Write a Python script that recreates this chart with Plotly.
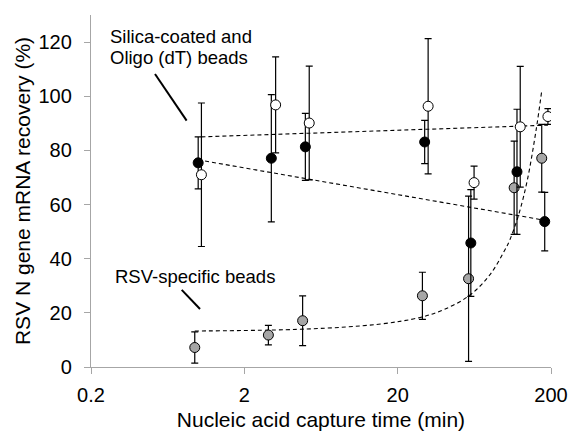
import plotly.graph_objects as go

# ---- data ----
time_ticks = [0.2, 2, 20, 200]
tick_text = ["0.2", "2", "20", "200"]
y_ticks = [0, 20, 40, 60, 80, 100, 120]

# Silica / Oligo (dT) beads, black markers
black_x = [1.0, 3.0, 5.0, 30, 60, 120, 182]
black_y = [75.4, 77.1, 81.3, 83.1, 45.8, 72.1, 53.7]
black_err = [9.6, 23.5, 12.4, 8.0, 19.7, 23.1, 10.8]

# Silica / Oligo (dT) beads, white markers
white_x = [1.05, 3.2, 5.3, 31.6, 63, 126, 191]
white_y = [71.0, 96.8, 90.1, 96.3, 68.1, 88.7, 92.5]
white_err = [26.5, 17.7, 21.0, 25.0, 6.1, 22.3, 2.9]

# RSV-specific beads, grey markers
grey_x = [0.95, 2.87, 4.8, 29, 58, 115, 174]
grey_y = [7.2, 11.8, 17.1, 26.3, 32.6, 66.2, 77.1]
grey_err = [5.8, 3.6, 9.2, 8.7, 30.5, 17.2, 12.5]

# dashed trend lines
white_trend_x = [1.05, 191]
white_trend_y = [85.0, 89.3]
black_trend_x = [1.0, 182]
black_trend_y = [76.5, 54.2]
grey_trend_x = [0.95, 5, 15, 28, 40, 59, 80, 100, 108, 123, 140, 160, 174]
grey_trend_y = [13.3, 14.0, 15.8, 18.3, 21.2, 26.5, 34.1, 43.2, 47.1, 56.2, 68.9, 87.6, 102.0]

# pointer lines for the labels
ptr1_x = [0.523, 0.841]
ptr1_y = [108.2, 91.0]
ptr2_x = [0.781, 1.028]
ptr2_y = [28.5, 21.4]

FONT = "Liberation Sans, Arial, sans-serif"
DASH = "4px,3px"

fig = go.Figure()

for tx, ty in [(white_trend_x, white_trend_y), (black_trend_x, black_trend_y)]:
    fig.add_trace(go.Scatter(x=tx, y=ty, mode="lines",
                             line=dict(color="black", width=1.1, dash=DASH),
                             hoverinfo="skip", showlegend=False))
fig.add_trace(go.Scatter(x=grey_trend_x, y=grey_trend_y, mode="lines",
                         line=dict(color="black", width=1.1, dash=DASH, shape="spline"),
                         hoverinfo="skip", showlegend=False))

for px, py in [(ptr1_x, ptr1_y), (ptr2_x, ptr2_y)]:
    fig.add_trace(go.Scatter(x=px, y=py, mode="lines",
                             line=dict(color="black", width=2),
                             hoverinfo="skip", showlegend=False))

def pts(x, y, err, fill, name):
    fig.add_trace(go.Scatter(
        x=x, y=y, mode="markers", name=name, showlegend=False,
        marker=dict(size=10, color=fill, line=dict(color="black", width=1)),
        error_y=dict(type="data", array=err, visible=True,
                     color="black", thickness=1.2, width=3.5)))

pts(grey_x, grey_y, grey_err, "#a6a6a6", "RSV-specific beads")
pts(black_x, black_y, black_err, "black", "Silica-coated beads")
pts(white_x, white_y, white_err, "white", "Oligo (dT) beads")

fig.add_annotation(text="Silica-coated and", xref="paper", yref="paper",
                   x=0.037, y=0.938, xanchor="left", yanchor="middle",
                   showarrow=False, font=dict(family=FONT, size=18.5, color="black"))
fig.add_annotation(text="Oligo (dT) beads", xref="paper", yref="paper",
                   x=0.037, y=0.880, xanchor="left", yanchor="middle",
                   showarrow=False, font=dict(family=FONT, size=18.5, color="black"))
fig.add_annotation(text="RSV-specific beads", xref="paper", yref="paper",
                   x=0.048, y=0.257, xanchor="left", yanchor="middle",
                   showarrow=False, font=dict(family=FONT, size=18.5, color="black"))

AX = "#a6a6a6"
fig.update_layout(
    width=571, height=431,
    margin=dict(l=91, r=20, t=15, b=64),
    paper_bgcolor="white", plot_bgcolor="white",
    font=dict(family=FONT, color="black"),
    xaxis=dict(type="log", range=[-0.69897, 2.30103], automargin=False,
               tickvals=time_ticks, ticktext=tick_text,
               showgrid=False, zeroline=False,
               showline=True, linecolor=AX, linewidth=1.3,
               ticks="outside", ticklen=6, tickcolor=AX, tickwidth=1.3,
               tickfont=dict(family=FONT, size=20, color="black"),
               ticklabelstandoff=4,
               title=dict(text="Nucleic acid capture time (min)",
                          font=dict(family=FONT, size=21, color="black"),
                          standoff=12)),
    yaxis=dict(range=[0, 130], tickvals=y_ticks, automargin=False,
               showgrid=False, zeroline=False,
               showline=True, linecolor=AX, linewidth=1.3,
               ticks="outside", ticklen=6, tickcolor=AX, tickwidth=1.3,
               tickfont=dict(family=FONT, size=20, color="black"),
               ticklabelstandoff=8,
               title=dict(text="RSV N gene mRNA recovery (%)",
                          font=dict(family=FONT, size=21, color="black"),
                          standoff=2)),
)

fig.write_html("out.html")
